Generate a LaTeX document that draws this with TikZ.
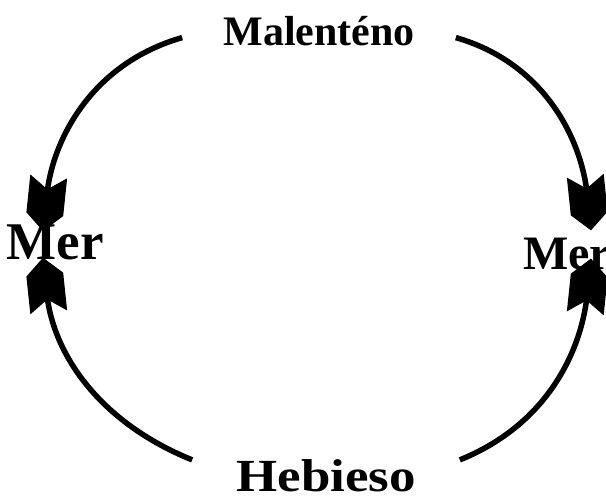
\documentclass[tikz,border=0pt]{standalone}
\usepackage{fontspec}
\setmainfont{Liberation Serif}
\usetikzlibrary{arrows.meta,positioning}

% heavy notched head
\pgfdeclarearrow{
  name=Notched,
  setup code={
    \pgfarrowssettipend{0pt}
    \pgfarrowssetbackend{-55pt}
    \pgfarrowssetlineend{-36pt}
  },
  drawing code={
    \pgfpathmoveto{\pgfpoint{0pt}{0pt}}
    \pgfpathlineto{\pgfpoint{-17pt}{18.5pt}}
    \pgfpathlineto{\pgfpoint{-55pt}{18.5pt}}
    \pgfpathlineto{\pgfpoint{-42pt}{0pt}}
    \pgfpathlineto{\pgfpoint{-55pt}{-18.5pt}}
    \pgfpathlineto{\pgfpoint{-17pt}{-18.5pt}}
    \pgfpathclose
    \pgfusepathqfill
  }
}

\begin{document}
\begin{tikzpicture}[
  x=1pt, y=1pt,
  word/.style={inner sep=0pt, anchor=base, font=\bfseries\fontsize{#1}{#1}\selectfont},
  arrow/.style={-Notched, line width=5.5pt}
]
\useasboundingbox (0,0) rectangle (606,502);

\node[word=42, inner xsep=41pt] (male) at (319,456) {Malenténo};
\node[word=46, inner xsep=44pt] (hebi) at (326,10) {\addfontfeature{FakeStretch=1.15}Hebieso};
\node[word=53] (merl) at (55,242) {Mer};
\node[word=48] (merr) at (567,232) {Mer};

\draw[arrow] ([yshift=-6pt]male.west) to[out=196, in=84] ([xshift=-12pt,yshift=-6pt]merl.north);
\draw[arrow] ([yshift=-6pt]male.east) to[out=-16, in=96] ([xshift=24pt,yshift=8pt]merr.north);
\draw[arrow] (hebi.north west) to[out=158, in=-84] ([xshift=-12pt,yshift=3pt]merl.south);
\draw[arrow] (hebi.north east) to[out=22, in=-96] ([xshift=24pt,yshift=12pt]merr.south);

\end{tikzpicture}
\end{document}
